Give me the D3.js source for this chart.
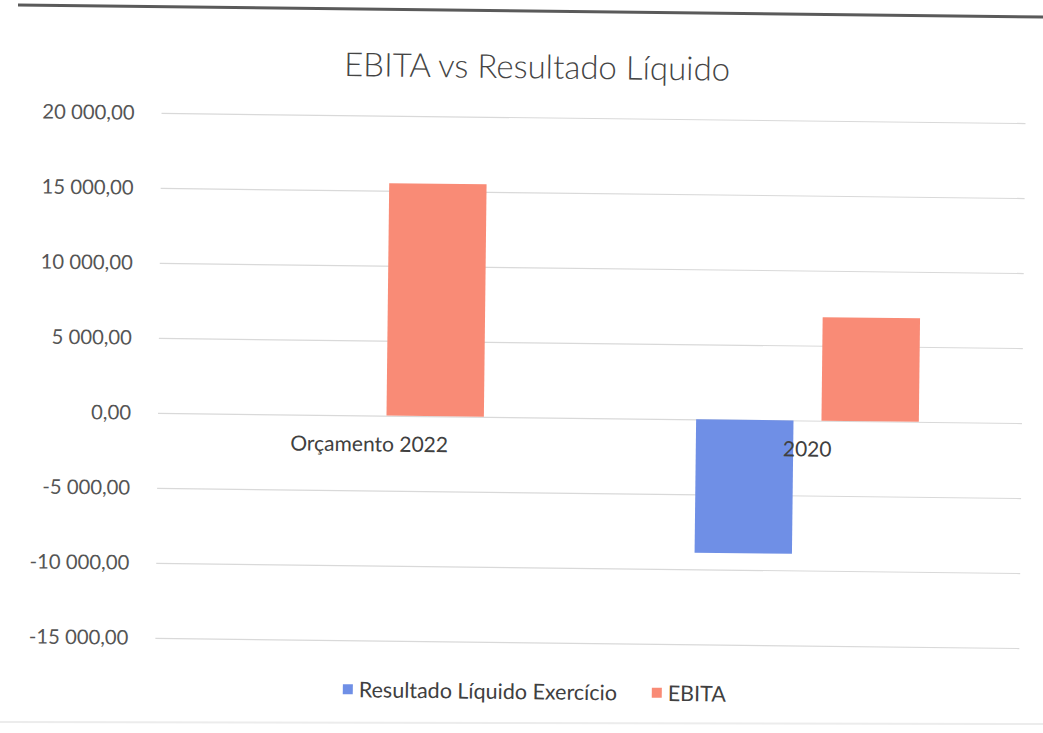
<!DOCTYPE html>
<html>
<head>
<meta charset="utf-8">
<script src="https://cdn.jsdelivr.net/npm/d3@7"></script>
<style>
  html, body { margin: 0; padding: 0; background: #ffffff; }
  svg { display: block; }
  text { font-family: Lato, "Open Sans", "Noto Sans", sans-serif; }
</style>
</head>
<body>
<svg id="chart" width="1043" height="733"></svg>
<script>
const titleText = "EBITA vs Resultado Líquido";
const categories = ["Orçamento 2022", "2020"];
const seriesNames = ["Resultado Líquido Exercício", "EBITA"];
const resultadoLiquido = [0, -8900];
const ebita = [15500, 6900];
const yTicks = [-15000, -10000, -5000, 0, 5000, 10000, 15000, 20000];
const seriesColors = ["#6f8fe6", "#f98b76"];

const data = categories.map((c, i) => ({
  category: c,
  values: [
    { series: seriesNames[0], value: resultadoLiquido[i] },
    { series: seriesNames[1], value: ebita[i] }
  ]
}));

const svg = d3.select("#chart");
svg.append("rect").attr("width", 1043).attr("height", 733).attr("fill", "#ffffff");

// scan artifacts: page edge at top, faint bottom line
svg.append("line").attr("x1", 18).attr("y1", 5).attr("x2", 1043).attr("y2", 17)
  .attr("stroke", "#5a5a5a").attr("stroke-width", 3);
svg.append("line").attr("x1", 0).attr("y1", 722).attr("x2", 1043).attr("y2", 724)
  .attr("stroke", "#ececec").attr("stroke-width", 2);

const g = svg.append("g").attr("transform", "rotate(0.67, 590, 418)");

const y = d3.scaleLinear().domain([-15000, 20000]).range([643, 118]);
const x0 = d3.scaleBand().domain(categories).range([155, 1025]).padding(0);
const groupW = x0.bandwidth() * 0.512;
const x1 = d3.scaleBand().domain(seriesNames).range([0, groupW]).paddingInner(0.223).paddingOuter(0);
const color = d3.scaleOrdinal().domain(seriesNames).range(seriesColors);

const fmt = v => {
  const s = d3.format(",.2f")(Math.abs(v)).replace(/,/g, " ").replace(".", ",");
  return (v < 0 ? "-" : "") + s;
};

// gridlines + y labels via axis
const yAxis = d3.axisLeft(y).tickValues(yTicks).tickFormat(fmt).tickSize(-(1022 - 158)).tickPadding(27);
const ya = g.append("g").attr("transform", "translate(158,0)").call(yAxis);
ya.select(".domain").remove();
ya.selectAll(".tick line").attr("stroke", "#d9d9d9").attr("stroke-width", 1.2);
ya.selectAll(".tick text").attr("fill", "#555555").style("font-size", "20.3px")
  .style("font-family", "Lato, 'Open Sans', sans-serif");

// bars
const groups = g.selectAll(".grp").data(data).enter().append("g")
  .attr("transform", d => `translate(${x0(d.category) + (x0.bandwidth() - groupW) / 2},0)`);
groups.selectAll("rect").data(d => d.values).enter().append("rect")
  .attr("x", d => x1(d.series))
  .attr("width", x1.bandwidth())
  .attr("y", d => y(Math.max(0, d.value)))
  .attr("height", d => Math.abs(y(d.value) - y(0)))
  .attr("fill", d => color(d.series));

// category labels near zero line
const xAxis = d3.axisBottom(x0).tickSize(0).tickPadding(21);
const xa = g.append("g").attr("transform", `translate(0,${y(0)})`).call(xAxis);
xa.select(".domain").remove();
xa.selectAll(".tick text").attr("fill", "#404040").style("font-size", "21px")
  .style("font-family", "Lato, 'Open Sans', sans-serif")
  .attr("dx", (d, i) => i === 0 ? -3 : 0);

// title
g.append("text").attr("x", 533).attr("y", 79).attr("text-anchor", "middle")
  .attr("fill", "#454545").style("font-size", "33px").style("font-weight", "300").text(titleText);

// legend
const legend = g.append("g").attr("transform", "translate(0,693)");
const legendX = [346, 655];
seriesNames.forEach((s, i) => {
  legend.append("rect").attr("x", legendX[i]).attr("y", -6).attr("width", 10).attr("height", 10)
    .attr("fill", color(s));
  legend.append("text").attr("x", legendX[i] + 16).attr("y", 7).attr("fill", "#404040")
    .style("font-size", "21.5px").text(s);
});
</script>
</body>
</html>
